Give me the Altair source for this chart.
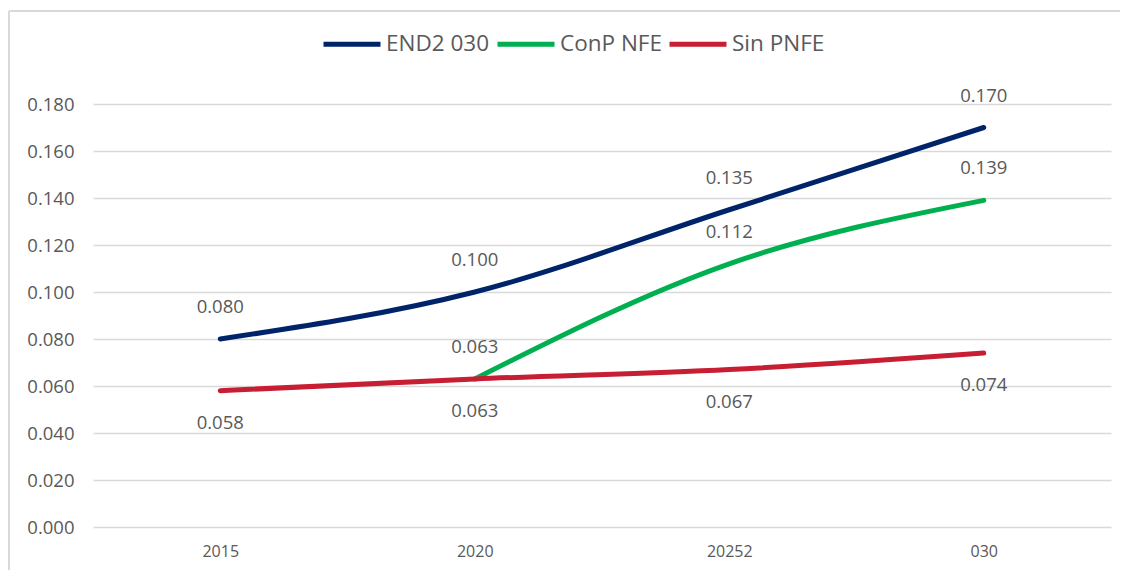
import altair as alt
import pandas as pd

categories = ["2015", "2020", "20252", "030"]
series_names = ["END2 030", "ConP NFE", "Sin PNFE"]
end2_values = [0.080, 0.100, 0.135, 0.170]
conp_values = [None, 0.063, 0.112, 0.139]
sin_values = [0.058, 0.063, 0.067, 0.074]
colors = ["#002469", "#00B050", "#C81E33"]
label_offsets = [-32, -32, 32]

rows = []
for name, vals, off in zip(series_names, [end2_values, conp_values, sin_values], label_offsets):
    for c, v in zip(categories, vals):
        if v is not None:
            rows.append({"cat": c, "value": v, "series": name, "off": off})
df = pd.DataFrame(rows)

FONT = "Open Sans"
GREY = "#595959"

x = alt.X("cat:N", sort=categories, scale=alt.Scale(type="point", padding=0.5),
          axis=alt.Axis(title=None, labelAngle=0, ticks=False, domain=False, grid=False,
                        labelFont=FONT, labelFontSize=16, labelColor=GREY, labelPadding=16))
y = alt.Y("value:Q", scale=alt.Scale(domain=[0, 0.18], nice=False),
          axis=alt.Axis(title=None, format=".3f", values=[i * 0.02 for i in range(10)],
                        ticks=False, domain=False, gridColor="#D9D9D9", gridWidth=1.5,
                        labelFont=FONT, labelFontSize=18.5, labelColor=GREY, labelPadding=19))
color = alt.Color("series:N", sort=series_names,
                  scale=alt.Scale(domain=series_names, range=colors),
                  legend=alt.Legend(title=None, orient="none", direction="horizontal",
                                    legendX=228, legendY=-91, symbolType="stroke",
                                    symbolSize=3249, symbolStrokeWidth=5,
                                    labelFont=FONT, labelFontSize=22.5, labelColor=GREY,
                                    labelOffset=3, columnPadding=-3))

base = alt.Chart(df)
lines = base.mark_line(interpolate="monotone", strokeWidth=5, strokeCap="round").encode(
    x=x, y=y, color=color, order=alt.Order("series_order:Q")
).transform_calculate(series_order="indexof(['END2 030','ConP NFE','Sin PNFE'], datum.series)")

labels_up = base.transform_filter("datum.off < 0").mark_text(
    font=FONT, fontSize=18.5, color=GREY, dy=-32
).encode(x=alt.X("cat:N", sort=categories), y="value:Q", text=alt.Text("value:Q", format=".3f"))
labels_down = base.transform_filter("datum.off > 0").mark_text(
    font=FONT, fontSize=18.5, color=GREY, dy=32
).encode(x=alt.X("cat:N", sort=categories), y="value:Q", text=alt.Text("value:Q", format=".3f"))

# chart-area frame (top and left edges visible in the reference)
frame_top = alt.Chart(df).mark_rule(color="#D9D9D9", strokeWidth=2).encode(
    x=alt.value(-84), x2=alt.value(1030), y=alt.value(-93)
)
frame_left = alt.Chart(df).mark_rule(color="#D9D9D9", strokeWidth=2).encode(
    x=alt.value(-84), y=alt.value(-93), y2=alt.value(470)
)

chart = alt.layer(frame_top, frame_left, lines, labels_up, labels_down).properties(
    width=1018, height=423,
    autosize=alt.AutoSizeParams(type="none"),
    padding={"left": 85, "top": 96, "right": 9, "bottom": 43},
    background="white",
).configure_view(stroke=None)

chart.save("out.html", embed_options={"renderer": "svg", "actions": False})
